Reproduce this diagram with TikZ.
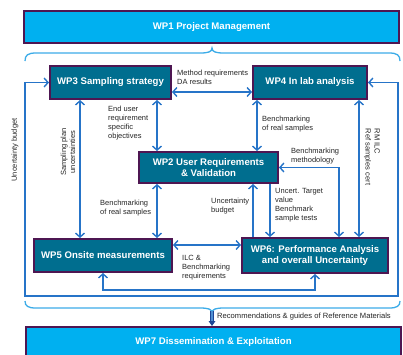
\documentclass[tikz,border=0pt]{standalone}
\usepackage{fontspec}
\setmainfont{Liberation Sans}
\usetikzlibrary{arrows.meta,calc}
\definecolor{wpteal}{RGB}{0,110,143}
\definecolor{wpborder}{RGB}{78,22,82}
\definecolor{wpcyan}{RGB}{0,176,240}
\definecolor{arrblue}{RGB}{38,116,200}
\definecolor{bracecol}{RGB}{60,172,232}
\definecolor{darkarr}{RGB}{30,70,150}
\tikzset{
  wpbox/.style={draw=wpborder, line width=2pt, fill=wpteal, text=white,
    font=\fontsize{9.6}{11}\selectfont\bfseries, align=center, inner sep=0pt},
  wpwide/.style={wpbox, fill=wpcyan},
  conn/.style={draw=arrblue, line width=1.4pt, >={Straight Barb[length=4pt,width=9pt]}},
  lbl/.style={font=\fontsize{7.5}{9}\selectfont, align=left, inner sep=0pt, text=black!85},
  bracepath/.style={draw=bracecol, line width=1.3pt}
}
\begin{document}
\begin{tikzpicture}[x=1pt,y=-1pt]
\useasboundingbox[fill=white] (0,0) rectangle (403,354);

% boxes
\node[wpwide, minimum width=375pt, minimum height=32pt] (wp1) at (211.5,27) {WP1 Project Management};
\node[wpbox, minimum width=121pt, minimum height=33pt] (wp3) at (110.5,82.5) {WP3 Sampling strategy};
\node[wpbox, minimum width=114pt, minimum height=33pt] (wp4) at (310,82.5) {WP4 In lab analysis};
\node[wpbox, minimum width=139pt, minimum height=31pt] (wp2) at (208.5,167.5) {WP2 User Requirements\\\& Validation};
\node[wpbox, minimum width=138pt, minimum height=33pt] (wp5) at (103,255.5) {WP5 Onsite measurements};
\node[wpbox, minimum width=146pt, minimum height=35pt] (wp6) at (315,255.5) {WP6: Performance Analysis\\and overall Uncertainty};
\node[wpwide, minimum width=375pt, minimum height=30pt] (wp7) at (213.5,342) {WP7 Dissemination \& Exploitation};

% braces
\draw[bracepath] (25,61) .. controls (25,55) and (28,53) .. (36,53) -- (200,53)
  .. controls (208,53) and (212,52) .. (212,48)
  .. controls (212,52) and (216,53) .. (224,53) -- (389,53)
  .. controls (397,53) and (400,55) .. (400,61);
\draw[bracepath] (25,301) .. controls (25,306) and (28,308) .. (36,308) -- (200,308)
  .. controls (208,308) and (212,309) .. (212,313)
  .. controls (212,309) and (216,308) .. (224,308) -- (389,308)
  .. controls (397,308) and (400,306) .. (400,301);

% bottom thick arrow
\coordinate (bt) at (212,311);
\draw[darkarr, line width=1pt, double=arrblue!80, double distance=2.5pt] (bt) -- ([yshift=3pt]bt |- wp7.north);
\fill[darkarr] ([yshift=5pt,xshift=-3.5pt]bt |- wp7.north) -- ([xshift=3.5pt,yshift=5pt]bt |- wp7.north) -- (bt |- wp7.north) -- cycle;

% labels
\node[lbl, anchor=north west] (lmeth) at (177,69.5) {Method requirements\\DA results};
\node[lbl, anchor=north west] (lend) at (108,105.5) {End user\\requirement\\specific\\objectives};
\node[lbl, anchor=north west] (lbench1) at (262,115.5) {Benchmarking\\of real samples};
\node[lbl, anchor=north west] (lbmeth) at (291,147.5) {Benchmarking\\methodology};
\node[lbl, anchor=north west] (lunc) at (275,188.5) {Uncert. Target\\value\\Benchmark\\sample tests};
\node[lbl, anchor=north west] (lubud) at (211,197.5) {Uncertainty\\budget};
\node[lbl, anchor=north west] (lbench2) at (100,199.5) {Benchmarking\\of real samples};
\node[lbl, anchor=north west] (lilc) at (182,255.5) {ILC \&\\Benchmarking\\requirements};
\node[lbl, rotate=90, align=center] (lsamp) at (68,152) {Sampling plan\\uncertainties};
\node[lbl, rotate=90] (lubud2) at (15,150) {Uncertainty budget};
\node[lbl, rotate=-90] (lrm) at (372,157) {RM ILC\\Ref samples cert};
\node[lbl, anchor=west, font=\fontsize{7.6}{9}\selectfont] (lrec) at (217,317) {Recommendations \& guides of Reference Materials};

% connectors
\draw[conn,<->] ([yshift=-9.5pt]wp3.east) -- ([yshift=-9.5pt]wp4.west);
\draw[conn,<->] ([xshift=-51.5pt]wp2.north) -- ([xshift=-51.5pt]wp2.north |- wp3.south);
\draw[conn,<->] ([xshift=-30.5pt]wp3.south) -- ([xshift=-30.5pt]wp3.south |- wp5.north);
\draw[conn,<->] ([xshift=-53pt]wp4.south) -- ([xshift=-53pt]wp4.south |- wp2.north);
\draw[conn,<->] ([xshift=49pt]wp4.south) -- ([xshift=49pt]wp4.south |- wp6.north);
\draw[conn,<->] ([xshift=-51.5pt]wp2.south) -- ([xshift=-51.5pt]wp2.south |- wp5.north);
\draw[conn,->] ([xshift=-62pt]wp6.north) -- ([xshift=-62pt]wp6.north |- wp2.south);
\draw[conn,->] ([xshift=61.5pt]wp2.south) -- ([xshift=61.5pt]wp2.south |- wp6.north);
\draw[conn,<->] ([xshift=24pt]wp6.north) |- (wp2.east);
\draw[conn,<->] ([yshift=10.5pt]wp5.east) -- ([yshift=10.5pt]wp5.east -| wp6.west);
\coordinate (l6) at (315,290);
\draw[conn,<->] (wp5.south) |- (l6) -- (wp6.south);
\coordinate (lb) at (25,296);
\coordinate (rb) at (398,296);
\draw[conn,<->] (wp3.west) -| (lb) -- (rb) |- (wp4.east);
\end{tikzpicture}
\end{document}
